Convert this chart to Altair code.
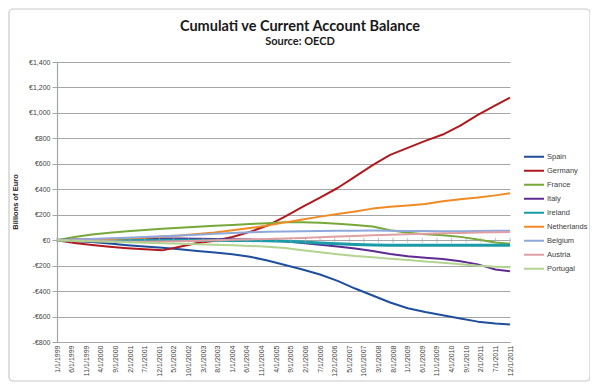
import altair as alt
import pandas as pd

# --- data (billions of euro, cumulative) ---
months = [0, 6, 12, 18, 24, 30, 36, 42, 48, 54, 60, 66, 72, 78, 84, 90, 96,
          102, 108, 114, 120, 126, 132, 138, 144, 150, 155]   # months after Jan 1999

countries = ["Spain", "Germany", "France", "Italy", "Ireland",
             "Netherlands", "Belgium", "Austria", "Portugal"]
colors = ["#1F4E9C", "#B0191E", "#77A83A", "#5E2C91", "#1A9BA8",
          "#F08A24", "#8EA8DC", "#E0A0A3", "#B2D48F"]

spain = [0, -8, -15, -27, -40, -50, -60, -72, -85, -97, -110, -130, -160, -195,
         -230, -270, -320, -380, -435, -490, -535, -565, -590, -615, -640, -655, -662]
germany = [0, -22, -38, -52, -63, -72, -80, -52, -22, -5, 25, 65, 115, 185,
           262, 335, 410, 500, 590, 670, 725, 780, 830, 900, 985, 1060, 1120]
france = [0, 25, 45, 58, 70, 80, 90, 98, 106, 113, 120, 127, 134, 140,
          140, 137, 130, 120, 108, 78, 58, 46, 38, 26, 5, -18, -28]
italy = [0, 5, 8, 10, 12, 13, 14, 13, 12, 10, 8, 5, 0, -8,
         -22, -35, -50, -65, -85, -108, -127, -138, -148, -165, -190, -230, -245]
ireland = [0, 0, -2, -3, -3, -2, -1, 0, 0, -1, -2, -3, -5, -8,
           -15, -22, -28, -33, -37, -40, -40, -40, -40, -40, -40, -40, -40]
netherlands = [0, 3, 6, 10, 15, 20, 28, 36, 48, 60, 78, 95, 115, 140,
               162, 185, 205, 225, 248, 262, 272, 285, 305, 322, 335, 352, 368]
belgium = [0, 5, 10, 15, 20, 25, 30, 36, 42, 50, 56, 62, 66, 68,
           70, 72, 74, 75, 76, 75, 73, 72, 70, 70, 72, 74, 75]
austria = [0, -3, -6, -9, -12, -12, -10, -8, -5, -1, 3, 6, 10, 14,
           18, 23, 28, 33, 38, 42, 46, 50, 54, 57, 60, 63, 65]
portugal = [0, -4, -8, -12, -16, -20, -24, -28, -32, -36, -40, -45, -52, -62,
            -80, -95, -110, -125, -135, -145, -155, -167, -178, -190, -200, -208, -212]

tick_months = list(range(0, 156, 5))       # axis label every 5 months
y_ticks = list(range(-800, 1401, 200))

title_text = "Cumulati ve Current Account Balance"
subtitle_text = "Source: OECD"
y_title = "Billions of Euro"

series = [spain, germany, france, italy, ireland, netherlands, belgium, austria, portugal]
rows = []
for c, vals in zip(countries, series):
    for m, v in zip(months, vals):
        rows.append({"country": c, "month": m, "value": v})
df = pd.DataFrame(rows)

GRID = "#A6A6A6"
AXFONT = "Liberation Sans"
TFONT = "Lato"

x_scale = alt.Scale(domain=[0, 155], nice=False, zero=False)
y_scale = alt.Scale(domain=[-800, 1400], nice=False, zero=False)

x_axis = alt.Axis(values=tick_months,
                  labelExpr="(datum.value % 12 + 1) + '/1/' + (1999 + floor(datum.value / 12))",
                  labelAngle=270, labelFontSize=7, labelFont=AXFONT,
                  labelColor="#404040", labelPadding=3,
                  ticks=False, grid=False, domain=True,
                  domainColor=GRID, domainWidth=1.2,
                  title=None, labelOverlap=False, labelFlush=False,
                  labelBound=False)
y_axis = alt.Axis(values=y_ticks,
                  labelExpr="(datum.value < 0 ? '-' : '') + '€' + format(abs(datum.value), ',')",
                  labelFontSize=7, labelFont=AXFONT, labelColor="#404040",
                  labelPadding=2, tickSize=5, tickColor=GRID,
                  domainColor=GRID, domainWidth=1.2,
                  grid=True, gridColor=GRID, gridWidth=1.2,
                  labelOverlap=False, labelFlush=False, labelBound=False,
                  title=None)

lines = alt.Chart(df).mark_line(strokeJoin="round").encode(
    x=alt.X("month:Q", scale=x_scale, axis=x_axis),
    y=alt.Y("value:Q", scale=y_scale, axis=y_axis),
    color=alt.Color("country:N",
                    scale=alt.Scale(domain=countries, range=colors),
                    sort=countries,
                    legend=alt.Legend(orient="none", legendX=466, legendY=88,
                                      title=None, symbolType="stroke",
                                      symbolSize=400, symbolStrokeWidth=2,
                                      clipHeight=13.6, rowPadding=0,
                                      labelFontSize=7.5, labelFont=AXFONT,
                                      labelColor="#404040", labelOffset=2)),
    strokeWidth=alt.condition(alt.datum.country == "Ireland", alt.value(3), alt.value(2)),
)

zero_ticks = alt.Chart(pd.DataFrame({"month": tick_months, "value": [0] * len(tick_months)})).mark_tick(
    orient="vertical", size=5, thickness=1, color=GRID
).encode(x=alt.X("month:Q", scale=x_scale, axis=x_axis),
         y=alt.Y("value:Q", scale=y_scale, axis=y_axis))

one = pd.DataFrame({"a": [0]})
frame = alt.Chart(one).mark_rect(fill=None, stroke="#C8C8C8", strokeWidth=1.2, cornerRadius=4).encode(
    x=alt.value(-48), x2=alt.value(533), y=alt.value(-53), y2=alt.value(319))
title = alt.Chart(one).mark_text(font=TFONT, fontSize=14.5, fontWeight="bold", color="#1a1a1a").encode(
    x=alt.value(243), y=alt.value(-35), text=alt.value(title_text))
subtitle = alt.Chart(one).mark_text(font=TFONT, fontSize=11, fontWeight="bold", color="#1a1a1a").encode(
    x=alt.value(243), y=alt.value(-20), text=alt.value(subtitle_text))
ytitle = alt.Chart(one).mark_text(font=AXFONT, fontSize=7.5, fontWeight="bold", angle=270, color="#1a1a1a").encode(
    x=alt.value(-41), y=alt.value(140), text=alt.value(y_title))

chart = alt.layer(lines, zero_ticks, frame, title, subtitle, ytitle).properties(
    width=453, height=280,
    autosize=alt.AutoSizeParams(type="none"),
    padding={"left": 49, "top": 54, "right": 80, "bottom": 40},
).configure_view(stroke=None)

chart.save("out.html", embed_options={"renderer": "svg", "actions": False})
